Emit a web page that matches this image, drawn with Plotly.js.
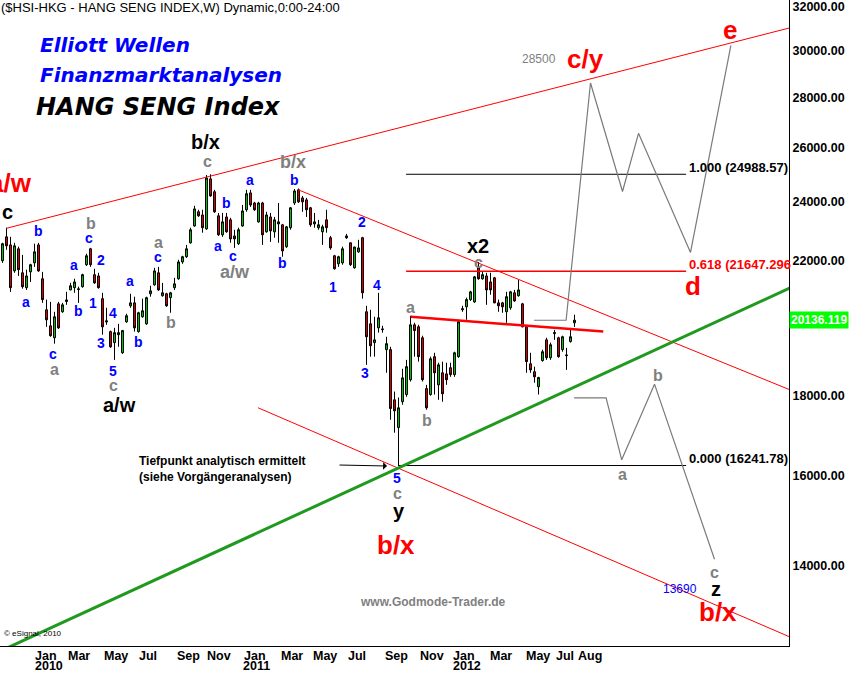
<!DOCTYPE html>
<html><head><meta charset="utf-8">
<script src="https://cdn.plot.ly/plotly-3.0.1.min.js"></script>
<style>html,body{margin:0;padding:0;background:#fff;overflow:hidden}</style>
</head><body><div id="chart" style="width:849px;height:673px"></div>
<script>
// ---- weekly OHLC, Hang Seng Index (bar index 0..143) ----
const open = [
21990,22780,22510,21660,22380,21600,21130,21630,21920,22510,
21410,20450,19970,19620,20630,20390,20700,21060,21130,21070,
21160,21860,22380,21540,21500,20790,20120,19800,19480,19710,
19190,20090,20570,20660,19800,20240,20030,20940,21220,21600,
20880,20940,20820,21130,21410,21950,22120,22580,23150,23640,
23530,23050,24820,24350,23500,22850,23460,23360,22810,22550,
23150,23710,24310,23950,23290,23950,22950,23460,22950,23290,
23190,22450,23090,23950,24420,24130,24060,23780,23220,23090,
22950,23360,22750,22150,21890,21920,22810,22580,21760,22280,
22750,20390,20030,19480,19910,19880,19280,19280,17900,17180,
17850,18040,18440,20000,19940,19620,18200,18040,19080,18300,
18630,18600,18770,18580,19080,20450,20540,20760,20690,21760,
21410,21500,21310,21440,20660,20660,20390,20510,20970,20880,
20630,19940,18880,18660,18250,18970,19560,19050,19740,19620,
19280,19130,19510,20060];
const high = [
22580,23090,22780,22580,22450,22180,21700,21890,22550,22580,
21630,20760,20690,20390,20690,20660,21000,21280,21410,21160,
21570,22220,22410,21730,21600,20970,20510,19830,19910,20030,
19850,20330,20940,20850,20390,20790,20850,21190,21760,21790,
21280,20970,21000,21440,22020,22150,22510,23090,23850,23710,
23710,24960,24988,24420,23600,23600,23600,23430,23020,23090,
23880,24420,24420,23990,23990,23990,23640,23600,23460,23950,
23220,23150,23810,24450,24470,24200,24130,23810,23600,23360,
23190,23710,22810,22180,22150,22450,22880,22590,22450,22680,
22780,20570,20450,20240,20970,19970,19650,19360,18120,17960,
18740,18990,20270,20060,20000,19680,18300,19080,19190,18910,
18940,18910,18910,19220,20150,20570,20820,21030,21500,21950,
21630,21600,21600,21470,20760,20690,21000,21030,21060,21380,
20660,19970,19190,18800,18520,19280,19620,19480,19850,19650,
19680,19330,19910,20300];
const low = [
21920,22350,21000,21600,21500,21100,21060,21310,21790,21630,
20660,19940,19650,19450,19880,20360,20600,21050,20970,20660,
21130,21820,21790,21250,21100,19710,20000,19330,18990,19360,
19160,20060,20510,19800,19770,20210,20000,20850,21190,21030,
20850,20540,20360,21060,21380,21890,22080,22550,23120,23460,
22920,23020,24170,23600,22810,22780,22920,22580,22410,22510,
23120,23640,23810,23670,23260,22510,22920,22610,22750,22580,
22120,22410,23020,23880,23950,23640,23460,23120,23090,23020,
22510,22920,22350,21700,21790,21860,22710,21820,21730,22250,
20790,18850,19080,19080,19770,19770,18630,17380,17050,16242,
17770,17980,18390,19080,18940,18390,17640,18010,18040,17900,
17850,18300,18520,18520,19050,20390,20150,20720,20660,21380,
21380,20600,20910,20650,20390,20360,20060,20450,20690,20850,
19930,18630,18630,18360,18040,18940,18990,18990,19560,19050,
19220,18710,19480,19940];
const close = [
22550,22480,21130,22480,21700,21160,21500,21860,22280,21660,
20760,20150,19680,20240,19910,20600,20750,21190,21310,21090,
21540,22150,21860,21280,21130,19940,20090,19360,19770,19770,
19830,20270,20660,19910,20360,20420,20820,21030,21660,21060,
20970,20570,20970,21250,21950,22120,22380,23020,23740,23500,
23090,24850,24200,23640,22850,23290,22950,22710,22710,23020,
23670,24280,23880,23710,23950,22850,23530,22980,23360,23220,
22310,23120,23780,24380,23990,23990,23710,23190,23290,23190,
23120,23090,22410,21730,22120,22380,22750,21860,22440,22410,
20970,19650,19390,19560,20210,19860,19450,17670,17610,17690,
18490,18800,20000,19830,19080,18440,17690,19020,18630,18850,
18060,18440,18580,19190,20090,20480,20760,21000,21470,21410,
21540,21060,21060,20660,20570,20540,20850,21000,20720,21060,
19940,18940,18710,18520,18500,19220,19050,19420,19770,19080,
19650,19110,19650,20136];

// ---- axis labels ----
const monthLabels = ['Jan','Mar','May','Jul','Sep','Nov','Jan','Mar','May','Jul','Sep','Nov','Jan','Mar','May','Jul','Aug'];
const monthTickPos = [10.8,19.05,28.35,36.4,46.4,54.2,63.0,72.3,80.55,88.55,98.6,107.3,115.3,124.6,133.9,140.5,146.8];
const yearLabels = ['2010','2011','2012'];
const yearTickPos = [11.5,63.55,116.0];
const priceTicks = [14000,16000,18000,22000,24000,26000,28000,30000,32000];
const lastPrice = 20136.119;

// ---- drawn lines (bar index, index value) ----
const upperChannelX = [1, 200],      upperChannelY = [23070, 31180];
const downTrendX = [73.95, 200],     downTrendY = [24420, 18030];
const lowerChannelX = [63.9, 200],   lowerChannelY = [17690, 12503];
const supportX = [-1, 200],          supportY = [12328, 21302];
const necklineX = [102.05, 150.2],   necklineY = [20240, 19800];
const fib1000X = [100.9, 170.9],     fib1000Y = [24988.57, 24988.57];
const fib0618X = [100.9, 170.9],     fib0618Y = [21647.296, 21647.296];
const fib0000X = [98.9, 170.9],      fib0000Y = [16241.78, 16241.78];
const projUpX = [132.9, 140.9, 147, 155, 159, 172, 182.1];
const projUpY = [20136, 20136, 28600, 24360, 26550, 22260, 30240];
const projDownX = [142.9, 150.9, 154.8, 163, 178];
const projDownY = [17950, 17950, 16380, 18320, 14140];

const bars = open.map((_, i) => i);
const line = (x, y, color, width) => ({type:'scatter', mode:'lines', x, y, line:{color, width}, hoverinfo:'skip', showlegend:false});

const traces = [
  line(upperChannelX, upperChannelY, '#FF0000', 1),
  line(downTrendX, downTrendY, '#FF0000', 1),
  line(lowerChannelX, lowerChannelY, '#FF0000', 1),
  line(fib1000X, fib1000Y, '#000000', 1),
  line(fib0618X, fib0618Y, '#FF0000', 1.5),
  line(fib0000X, fib0000Y, '#000000', 1),
  line(projUpX, projUpY, '#7A7A7A', 1.2),
  line(projDownX, projDownY, '#7A7A7A', 1.2),
  {type:'candlestick', x:bars, open, high, low, close, whiskerwidth:0,
   increasing:{line:{color:'#000', width:1}, fillcolor:'#00CC00'},
   decreasing:{line:{color:'#000', width:1}, fillcolor:'#E00000'},
   hoverinfo:'skip', showlegend:false},
  line(necklineX, necklineY, '#FF0000', 2.5),
  line(supportX, supportY, '#1F9A1F', 3)
];

const AR = 'Liberation Sans, Arial, sans-serif';
const VD = 'DejaVu Sans, Verdana, sans-serif';
const W = 789, H = 646;
const L = (text, x, y, font, anchor) => ({text, xref:'paper', yref:'paper', x:x/W, y:1-y/H,
  xanchor:anchor||'center', yanchor:'middle', showarrow:false, font});
const fRed = {family:AR, size:26, color:'#FF0000', weight:'bold'};
const fBlk = {family:AR, size:20, color:'#000', weight:'bold'};
const fGray = {family:AR, size:16, color:'#808080', weight:'bold'};
const fGray18 = {family:AR, size:18, color:'#808080', weight:'bold'};
const fBlue = {family:AR, size:14, color:'#0000FF', weight:'bold'};
const fFib = {family:AR, size:13, color:'#000', weight:'bold'};
const fAxis = {family:AR, size:12.5, color:'#000', weight:'bold'};

const ann = [
  L('($HSI-HKG - HANG SENG INDEX,W) Dynamic,0:00-24:00', -1, 7, {family:AR, size:13, color:'#000'}, 'left'),
  L('<b><i>Elliott Wellen</i></b>', 38, 45, {family:VD, size:20, color:'#0000FF'}, 'left'),
  L('<b><i>Finanzmarktanalysen</i></b>', 38, 75, {family:VD, size:20, color:'#0000FF'}, 'left'),
  L('<b><i>HANG SENG Index</i></b>', 34, 107, {family:VD, size:24, color:'#000'}, 'left'),
  // red degree labels
  L('a/w', 34, 183, fRed, 'right'),
  L('b/x', 396, 545, fRed), L('c/y', 585, 59, fRed), L('e', 730, 30, fRed),
  L('d', 693, 286, fRed), L('b/x', 718, 612, fRed),
  // black labels
  L('c', 8, 212, fBlk), L('a/w', 119, 405, fBlk), L('b/x', 205, 142, fBlk),
  L('x2', 478, 246, fBlk), L('y', 399, 511, fBlk), L('z', 716, 589, fBlk),
  // gray labels
  L('b', 91, 223, fGray), L('a', 54, 369, fGray), L('c', 114, 385, fGray),
  L('a', 158, 242, fGray), L('b', 171, 322, fGray), L('c', 207, 161, fGray),
  L('a/w', 235, 272, fGray18), L('b/x', 293, 162, fGray18),
  L('a', 410, 308, fGray), L('b', 427, 420, fGray), L('c', 398, 493, fGray),
  L('c', 478, 262, fGray), L('b', 658, 376, fGray), L('a', 622, 474, fGray), L('c', 714, 572, fGray),
  // blue labels
  L('b', 38, 231, fBlue), L('a', 26, 302, fBlue), L('c', 53, 354, fBlue),
  L('c', 89, 238, fBlue), L('a', 74, 265, fBlue), L('2', 101, 260, fBlue),
  L('1', 93, 303, fBlue), L('b', 78, 311, fBlue), L('4', 113, 313, fBlue),
  L('3', 101, 343, fBlue), L('5', 113, 371, fBlue), L('a', 130, 281, fBlue),
  L('b', 138, 342, fBlue), L('c', 158, 257, fBlue), L('b', 227, 203, fBlue),
  L('a', 218, 246, fBlue), L('c', 233, 256, fBlue), L('a', 250, 180, fBlue),
  L('b', 294, 180, fBlue), L('b', 282, 263, fBlue), L('2', 362, 222, fBlue),
  L('1', 333, 287, fBlue), L('4', 377, 285, fBlue), L('3', 365, 373, fBlue),
  L('5', 397, 478, fBlue),
  // other texts
  L('28500', 539, 59, {family:AR, size:12, color:'#808080'}),
  L('13690', 680, 589, {family:AR, size:12, color:'#0000FF'}),
  L('www.Godmode-Trader.de', 433, 602, {family:AR, size:12, color:'#808080', weight:'bold'}),
  L('© eSignal, 2010', 2, 633, {family:AR, size:8, color:'#000'}, 'left'),
  L('Tiefpunkt analytisch ermittelt', 137, 461, {family:AR, size:12, color:'#000', weight:'bold'}, 'left'),
  L('(siehe Vorgängeranalysen)', 137, 477, {family:AR, size:12, color:'#000', weight:'bold'}, 'left'),
  L('1.000 (24988.57)', 687, 167, fFib, 'left'),
  L('0.618 (21647.296', 687, 264, {family:AR, size:13, color:'#FF0000', weight:'bold'}, 'left'),
  L('0.000 (16241.78)', 687, 458, fFib, 'left'),
  {text:'', xref:'paper', yref:'paper', x:387/W, y:1-466/H, ax:-49, ay:-1, showarrow:true,
   arrowhead:1, arrowsize:1.3, arrowwidth:1, arrowcolor:'#000'},
  {text:'20136.119', xref:'paper', yref:'y', x:1, y:Math.log10(lastPrice), xanchor:'left', yanchor:'middle',
   showarrow:false, bgcolor:'#00FF00', borderpad:1, font:{family:AR, size:12, color:'#FFFFFF', weight:'bold'}}
];
// month labels and years below
monthLabels.forEach((m, k) => ann.push({text:m, xref:'x', yref:'paper', x:monthTickPos[k], y:1-656/H,
  xanchor:'center', yanchor:'middle', showarrow:false, borderpad:0, font:fAxis}));
yearLabels.forEach((t, k) => ann.push({text:t, xref:'x', yref:'paper', x:yearTickPos[k], y:1-666/H,
  xanchor:'center', yanchor:'middle', showarrow:false, borderpad:0, font:fAxis}));

const layout = {
  width:849, height:673, margin:{l:0, r:60, t:0, b:27, autoexpand:false},
  paper_bgcolor:'#FFFFFF', plot_bgcolor:'#FFFFFF', showlegend:false, hovermode:false,
  xaxis:{range:[-0.625, 196.625], showgrid:false, zeroline:false, showline:true, linecolor:'#000', linewidth:1,
    ticks:'', showticklabels:false, rangeslider:{visible:false}, fixedrange:true},
  yaxis:{type:'log', range:[4.0947, 4.5097], side:'right', showgrid:false, zeroline:false, showline:true,
    linecolor:'#000', linewidth:1, ticks:'', tickvals:priceTicks, ticktext:priceTicks.map(v => v.toFixed(2)),
    ticklabeloverflow:'allow', tickfont:fAxis, fixedrange:true},
  annotations: ann
};
Plotly.newPlot('chart', traces, layout, {staticPlot:true, displayModeBar:false});
</script></body></html>
